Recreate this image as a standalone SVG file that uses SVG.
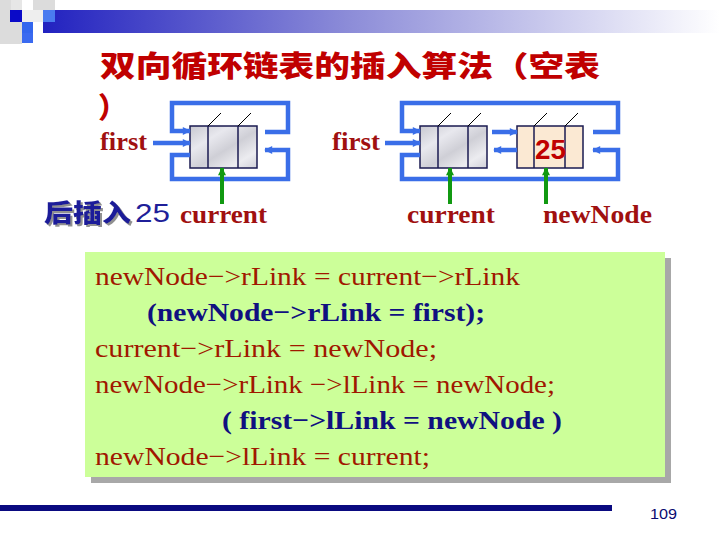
<svg xmlns="http://www.w3.org/2000/svg" width="720" height="540" viewBox="0 0 720 540">
<defs>
<linearGradient id="bar" x1="0" y1="0" x2="1" y2="0">
<stop offset="0" stop-color="#2222c0"/>
<stop offset="0.45" stop-color="#8c8cd8"/>
<stop offset="1" stop-color="#ffffff"/>
</linearGradient>
<linearGradient id="marble" x1="0" y1="0" x2="1" y2="1">
<stop offset="0" stop-color="#c8c8d0"/>
<stop offset="0.3" stop-color="#e8e8ee"/>
<stop offset="0.55" stop-color="#cfcfd6"/>
<stop offset="0.8" stop-color="#ececf0"/>
<stop offset="1" stop-color="#d0d0d8"/>
</linearGradient>
<filter id="shadow" x="-10%" y="-20%" width="130%" height="150%">
<feDropShadow dx="2" dy="2" stdDeviation="0.6" flood-color="#909090"/>
</filter>
<marker id="ab" viewBox="0 0 10 10" refX="9" refY="5" markerWidth="10" markerHeight="8" markerUnits="userSpaceOnUse" orient="auto">
<path d="M0,0 L10,5 L0,10 z" fill="#3a6ee8"/>
</marker>
<marker id="ag" viewBox="0 0 10 10" refX="9" refY="5" markerWidth="10" markerHeight="8" markerUnits="userSpaceOnUse" orient="auto">
<path d="M0,0 L10,5 L0,10 z" fill="#119911"/>
</marker>
</defs>
<style>
.blue{fill:none;stroke:#3a6ee8;stroke-width:4.5;marker-end:url(#ab)}
.green{fill:none;stroke:#119911;stroke-width:4;marker-end:url(#ag)}
.box{fill:url(#marble);stroke:#1a1a50;stroke-width:1.5}
.box2{fill:#fbe9d3;stroke:#1a1a50;stroke-width:1.5}
.div{stroke:#1a1a50;stroke-width:1.5}
.diag{stroke:#000;stroke-width:1}
.lbl{font-family:"Liberation Serif",serif;font-weight:bold;font-size:25px;fill:#a01010}
.title{font-family:"Noto Sans CJK SC",sans-serif;font-weight:900;font-size:29px;fill:#c00000}
.code{font-family:"Liberation Serif",serif;font-size:26px;fill:#a01800}
.codeb{font-family:"Liberation Serif",serif;font-weight:bold;font-size:26px;fill:#101080}
</style>
<rect width="720" height="540" fill="#ffffff"/>
<g id="header">
<rect x="43" y="10" width="677" height="23" fill="url(#bar)"/>
<rect x="0" y="0" width="11" height="44" fill="#dcdcdc"/>
<rect x="11" y="0" width="11" height="10" fill="#e6e6e6"/>
<rect x="11" y="22" width="11" height="22" fill="#dcdcdc"/>
<rect x="22" y="10" width="21" height="12" fill="#eeeeee"/>
<rect x="33" y="0" width="22" height="10" fill="#dcdcdc"/>
<rect x="10" y="10" width="12" height="12" fill="#0a0ac8"/>
<rect x="43" y="10" width="12" height="12" fill="#4a7cf0"/>
<rect x="22" y="22" width="11" height="11" fill="#3366ee"/>
<rect x="22" y="33" width="11" height="10" fill="#3a6af0"/>
</g>
<g id="title">
<text class="title" x="100" y="77" textLength="500" lengthAdjust="spacingAndGlyphs">双向循环链表的插入算法（空表</text>
<text class="title" x="98" y="118">）</text>
</g>
<g id="node-left-current">
<rect class="box" x="190" y="126" width="67" height="42"/>
<line class="div" x1="208" y1="126" x2="208" y2="168"/>
<line class="div" x1="238" y1="126" x2="238" y2="168"/>
<line class="diag" x1="208" y1="126" x2="221" y2="113"/>
<line class="diag" x1="238" y1="126" x2="251" y2="113"/>
</g>
<g id="node-right-current">
<rect class="box" x="420" y="126" width="67" height="42"/>
<line class="div" x1="438" y1="126" x2="438" y2="168"/>
<line class="div" x1="468" y1="126" x2="468" y2="168"/>
<line class="diag" x1="438" y1="126" x2="451" y2="113"/>
<line class="diag" x1="468" y1="126" x2="481" y2="113"/>
</g>
<g id="node-right-newnode">
<rect class="box2" x="517" y="126" width="66" height="42"/>
<line class="div" x1="534" y1="126" x2="534" y2="168"/>
<line class="div" x1="565" y1="126" x2="565" y2="168"/>
<line class="diag" x1="534" y1="126" x2="547" y2="113"/>
<line class="diag" x1="565" y1="126" x2="578" y2="113"/>
<text x="535" y="159" textLength="31" lengthAdjust="spacingAndGlyphs" font-family="'Liberation Sans',sans-serif" font-weight="bold" font-size="28" fill="#c00000">25</text>
</g>
<g id="connectors">
<path class="blue" d="M153,143 H190"/>
<path class="blue" d="M265,132 H288 V103 H172 V131 H190"/>
<path class="blue" d="M190,155 H172 V179 H288 V150 H265"/>
<path class="blue" d="M385,143 H420"/>
<path class="blue" d="M593,132 H618 V103 H402 V131 H420"/>
<path class="blue" d="M420,155 H402 V179 H618 V150 H593"/>
<path class="blue" d="M492,132 H517"/>
<path class="blue" d="M517,150 H494"/>
<path class="green" d="M222,204 V168"/>
<path class="green" d="M450,204 V168"/>
<path class="green" d="M546,204 V168"/>
</g>
<g id="labels">
<text class="lbl" x="100" y="150" textLength="47" lengthAdjust="spacingAndGlyphs">first</text>
<text class="lbl" x="332" y="150" textLength="48" lengthAdjust="spacingAndGlyphs">first</text>
<text class="lbl" x="180" y="223" textLength="87" lengthAdjust="spacingAndGlyphs">current</text>
<text class="lbl" x="407" y="223" textLength="88" lengthAdjust="spacingAndGlyphs">current</text>
<text class="lbl" x="543" y="223" textLength="109" lengthAdjust="spacingAndGlyphs">newNode</text>
<text x="44" y="222" textLength="87" lengthAdjust="spacingAndGlyphs" font-family="'Noto Sans CJK SC',sans-serif" font-weight="900" font-size="25" fill="#1f1f99" filter="url(#shadow)">后插入</text>
<text x="135" y="222" textLength="35" lengthAdjust="spacingAndGlyphs" font-family="'Liberation Sans',sans-serif" font-size="25" fill="#1f1f99">25</text>
</g>
<g id="code">
<rect x="91" y="258" width="580" height="225" fill="#a8a8a8"/>
<rect x="85" y="252" width="580" height="225" fill="#ccff99"/>
<text class="code" x="95" y="285" textLength="425" lengthAdjust="spacingAndGlyphs">newNode−&gt;rLink = current−&gt;rLink</text>
<text class="codeb" x="147" y="321" textLength="338" lengthAdjust="spacingAndGlyphs">(newNode−&gt;rLink = first);</text>
<text class="code" x="95" y="357" textLength="342" lengthAdjust="spacingAndGlyphs">current−&gt;rLink = newNode;</text>
<text class="code" x="95" y="393" textLength="460" lengthAdjust="spacingAndGlyphs">newNode−&gt;rLink −&gt;lLink = newNode;</text>
<text class="codeb" x="222" y="429" textLength="340" lengthAdjust="spacingAndGlyphs">( first−&gt;lLink = newNode )</text>
<text class="code" x="95" y="465" textLength="335" lengthAdjust="spacingAndGlyphs">newNode−&gt;lLink = current;</text>
</g>
<g id="footer">
<rect x="0" y="505" width="612" height="6" fill="#0a0a80"/>
<text x="650" y="519" textLength="27" lengthAdjust="spacingAndGlyphs" font-family="'Liberation Sans',sans-serif" font-size="15" fill="#0a0a70">109</text>
</g>
</svg>
